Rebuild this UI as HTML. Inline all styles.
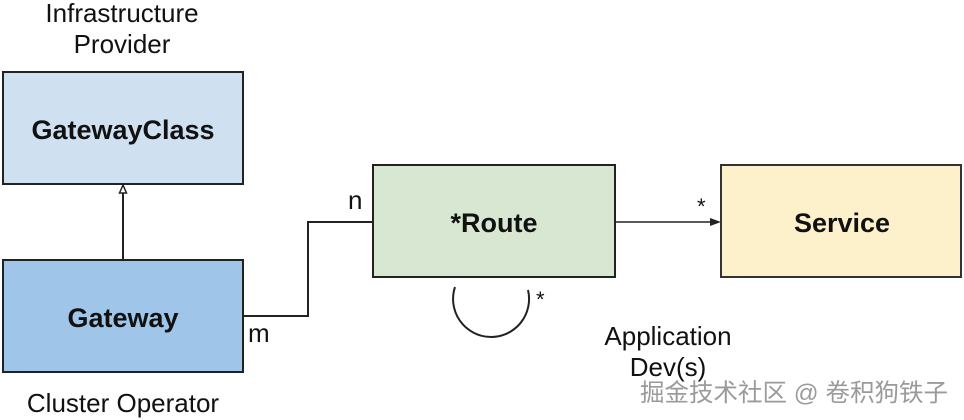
<!DOCTYPE html>
<html><head><meta charset="utf-8"><style>
html,body{margin:0;padding:0;background:#fff;}
svg{display:block;}
text{font-family:"Liberation Sans",Arial,sans-serif;}
</style></head><body>
<svg width="964" height="420" viewBox="0 0 964 420" xmlns="http://www.w3.org/2000/svg">
<rect width="964" height="420" fill="#fff"/>
<text x="122" y="22" font-size="26" text-anchor="middle" fill="#111">Infrastructure</text>
<text x="122" y="53" font-size="26" text-anchor="middle" fill="#111">Provider</text>
<rect x="3" y="72" width="240" height="112" fill="#cfe0f1" stroke="#222" stroke-width="2"/>
<text x="123" y="139" font-size="27" font-weight="bold" text-anchor="middle" fill="#111">GatewayClass</text>
<line x1="123" y1="260" x2="123" y2="192" stroke="#222" stroke-width="2"/>
<polygon points="123,185 119.5,193 126.5,193" fill="#fff" stroke="#222" stroke-width="1.5"/>
<rect x="3" y="260" width="240" height="112" fill="#9fc5e8" stroke="#222" stroke-width="2"/>
<text x="123" y="327" font-size="27" font-weight="bold" text-anchor="middle" fill="#111">Gateway</text>
<text x="123" y="412" font-size="26" text-anchor="middle" fill="#111">Cluster Operator</text>
<polyline points="243,316 308,316 308,222 373,222" fill="none" stroke="#222" stroke-width="2"/>
<text x="248" y="342" font-size="26" fill="#111">m</text>
<text x="348" y="209" font-size="26" fill="#111">n</text>
<rect x="373" y="165" width="242" height="112" fill="#d7e7d1" stroke="#222" stroke-width="2"/>
<text x="494" y="232" font-size="27" font-weight="bold" text-anchor="middle" fill="#111">*Route</text>
<path d="M455,287 A38,38 0 1 0 528,290" fill="none" stroke="#222" stroke-width="2"/>
<text x="536" y="307" font-size="22" fill="#111">*</text>
<line x1="615" y1="222" x2="713" y2="222" stroke="#222" stroke-width="1.5"/>
<polygon points="721,222 710,218 710,226" fill="#222"/>
<text x="697" y="214" font-size="22" fill="#111">*</text>
<rect x="721" y="165" width="240" height="112" fill="#fdf1cc" stroke="#333" stroke-width="2"/>
<text x="842" y="232" font-size="27" font-weight="bold" text-anchor="middle" fill="#111">Service</text>
<text x="668" y="345" font-size="26" text-anchor="middle" fill="#111">Application</text>
<text x="668" y="376" font-size="26" text-anchor="middle" fill="#111">Dev(s)</text>
<text x="640" y="401" font-size="24.5" fill="#9a9a9a" style='font-family:"Liberation Sans","Noto Sans CJK SC",sans-serif'>掘金技术社区 @ 卷积狗铁子</text>
</svg>
</body></html>
